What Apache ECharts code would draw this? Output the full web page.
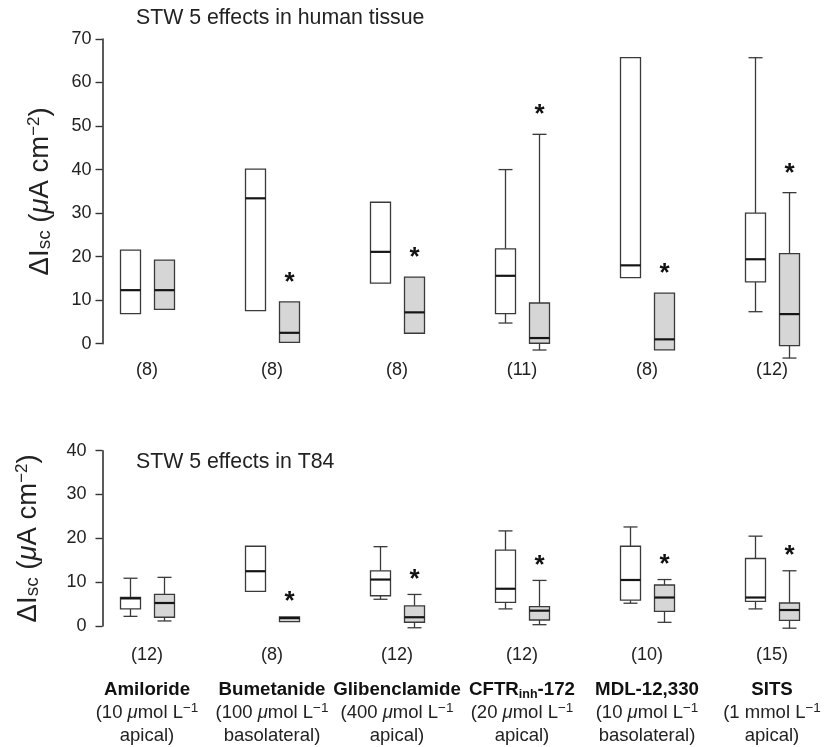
<!DOCTYPE html>
<html><head><meta charset="utf-8">
<script src="https://cdn.jsdelivr.net/npm/echarts@6/dist/echarts.min.js"></script>
<style>html,body{margin:0;padding:0;background:#fff}#c{width:835px;height:747px}</style>
</head><body><div id="c"></div>
<script>
// ---- data ----
const drugs = ['Amiloride', 'Bumetanide', 'Glibenclamide', 'CFTR_inh-172', 'MDL-12,330', 'SITS'];
const doses = ['10 μmol', '100 μmol', '400 μmol', '20 μmol', '10 μmol', '1 mmol'];
const sites = ['apical', 'basolateral', 'apical', 'apical', 'basolateral', 'apical'];
const nTissue = [8, 8, 8, 11, 8, 12];
const nT84 = [12, 8, 12, 12, 10, 15];
// each box: [min, Q1, median, Q3, max]
const tissueControl = [
  [6.9, 6.9, 12.3, 21.5, 21.5],
  [7.6, 7.6, 33.4, 40.1, 40.1],
  [13.9, 13.9, 21.1, 32.5, 32.5],
  [4.75, 6.9, 15.6, 21.8, 40.0],
  [15.2, 15.2, 18.0, 65.7, 65.7],
  [7.35, 14.2, 19.4, 30.0, 65.7]
];
const tissueSTW5 = [
  [7.9, 7.9, 12.3, 19.2, 19.2],
  [0.3, 0.3, 2.5, 9.6, 9.6],
  [2.4, 2.4, 7.2, 15.3, 15.3],
  [-1.45, 0.1, 1.3, 9.35, 48.1],
  [-1.4, -1.4, 1.0, 11.6, 11.6],
  [-3.3, -0.46, 6.8, 20.7, 34.7]
];
const tissueSig = [false, true, true, true, true, true];
const t84Control = [
  [2.2, 3.9, 6.3, 6.5, 10.9],
  [7.9, 7.9, 12.5, 18.2, 18.2],
  [6.1, 6.9, 10.6, 12.6, 18.1],
  [3.9, 5.4, 8.5, 17.3, 21.7],
  [5.2, 5.9, 10.5, 18.2, 22.6],
  [3.9, 5.6, 6.5, 15.4, 20.5]
];
const t84STW5 = [
  [1.15, 2.0, 5.25, 7.2, 11.1],
  [1.0, 1.0, 1.8, 2.05, 2.05],
  [-0.4, 0.85, 2.0, 4.6, 7.2],
  [0.3, 1.37, 3.5, 4.4, 10.4],
  [0.84, 3.35, 6.5, 9.35, 10.6],
  [-0.5, 1.3, 3.65, 5.25, 12.6]
];
const t84Sig = [false, true, true, true, true, true];
const noSig = [false, false, false, false, false, false];

// ---- styling ----
const FONT = "'Liberation Sans', Arial, Helvetica, sans-serif";
const TXT = '#222';
const EDGE = '#3a3a3a';

function seriesData(boxes) {
  return boxes.map((b, i) => [drugs[i]].concat(b));
}

function makeRender(offset, fill, sigArr, starLift) {
  return function (params, api) {
    const idx = api.value(0);
    const vals = [1, 2, 3, 4, 5].map(k => api.value(k));
    const pts = vals.map(v => api.coord([idx, v]));
    const cx = Math.round(pts[0][0] + offset) + 0.5;
    const y = pts.map(p => p[1]);
    const hw = 10, cw = 7;
    const ch = [];
    const ln = (x1, y1, x2, y2, w, c) => ({ type: 'line', shape: { x1, y1, x2, y2 }, style: { stroke: c, lineWidth: w } });
    if (vals[4] > vals[3]) {
      ch.push(ln(cx, y[4], cx, y[3], 1.3, EDGE));
      ch.push(ln(cx - cw, y[4], cx + cw, y[4], 1.3, EDGE));
    }
    if (vals[0] < vals[1]) {
      ch.push(ln(cx, y[1], cx, y[0], 1.3, EDGE));
      ch.push(ln(cx - cw, y[0], cx + cw, y[0], 1.3, EDGE));
    }
    ch.push({ type: 'rect', shape: { x: cx - hw, y: y[3], width: 2 * hw, height: y[1] - y[3] },
      style: { fill: fill, stroke: EDGE, lineWidth: 1.3 } });
    ch.push(ln(cx - hw, y[2], cx + hw, y[2], 2.2, '#151515'));
    if (sigArr[params.dataIndex]) {
      ch.push({ type: 'text', style: { text: '*', x: cx, y: y[4] - starLift,
        align: 'center', verticalAlign: 'bottom', textAlign: 'center', textVerticalAlign: 'bottom',
        font: 'bold 26px ' + FONT, fill: '#111' } });
    }
    return { type: 'group', children: ch };
  };
}

function boxSeries(boxes, xi, offset, fill, sigArr, starLift, name) {
  return {
    type: 'custom', name: name, xAxisIndex: xi, yAxisIndex: xi,
    dimensions: ['drug', 'min', 'q1', 'median', 'q3', 'max'],
    encode: { x: 'drug', y: ['min', 'q1', 'median', 'q3', 'max'] },
    data: seriesData(boxes),
    renderItem: makeRender(offset, fill, sigArr, starLift),
    clip: false, silent: true
  };
}

function nameRich(name) {
  const m = name.match(/^(.*)_([a-z]+)(.*)$/);
  if (!m) return '{b|' + name + '}';
  return '{b|' + m[1] + '}{bs|' + m[2] + '}{b|' + m[3] + '}';
}
function doseRich(i) {
  const parts = doses[i].split('μ');
  let s = '{t|(' + parts[0] + '}';
  if (parts.length > 1) s += '{ti|μ}{t|' + parts[1] + '}';
  return s + '{t| L}{sup|−1}';
}

const yName = '{d|ΔI}{s|sc}{d| (}{i|μ}{d|A cm}{p|−2}{d|)}';
const yNameRich = {
  d: { fontSize: 27.5, color: TXT, fontFamily: FONT, lineHeight: 29 },
  i: { fontSize: 27.5, color: TXT, fontFamily: FONT, fontStyle: 'italic', lineHeight: 29 },
  s: { fontSize: 19, color: TXT, fontFamily: FONT, verticalAlign: 'bottom', lineHeight: 12 },
  p: { fontSize: 17, color: TXT, fontFamily: FONT, verticalAlign: 'top', lineHeight: 12 }
};

function yAxisShown(gi, max, margin, gap) {
  return {
    gridIndex: gi, type: 'value', min: 0, max: max, interval: 10,
    axisLine: { show: true, lineStyle: { color: '#333', width: 1.6 } },
    axisTick: { show: true, length: 7, lineStyle: { color: '#333', width: 1.4 } },
    axisLabel: { margin: margin, fontSize: 18, color: TXT, fontFamily: FONT },
    splitLine: { show: false },
    name: yName, nameLocation: 'middle', nameGap: gap,
    nameTextStyle: { rich: yNameRich, fontSize: 27.5, color: TXT, fontFamily: FONT }
  };
}

const chart = echarts.init(document.getElementById('c'), null, { renderer: 'canvas' });
chart.setOption({
  animation: false,
  backgroundColor: '#fff',
  title: [
    { text: 'STW 5 effects in human tissue', left: 136, top: 8, padding: 0,
      textStyle: { fontSize: 21.3, fontWeight: 'normal', color: TXT, fontFamily: FONT } },
    { text: 'STW 5 effects in T84', left: 136, top: 452, padding: 0,
      textStyle: { fontSize: 21.3, fontWeight: 'normal', color: TXT, fontFamily: FONT } }
  ],
  grid: [
    { left: 102.5, top: 39, width: 700, height: 304.7 },
    { left: 84.5, top: 39, width: 750, height: 304.7 },
    { left: 102.5, top: 450.7, width: 700, height: 175.3 },
    { left: 84.5, top: 450.7, width: 750, height: 175.3 }
  ],
  xAxis: [
    { gridIndex: 0, type: 'value', show: false },
    { gridIndex: 1, type: 'category', data: drugs,
      axisLine: { show: false }, axisTick: { show: false }, splitLine: { show: false },
      axisLabel: { interval: 0, margin: 17, fontSize: 18, color: TXT, fontFamily: FONT,
        formatter: (v, i) => '(' + nTissue[i] + ')' } },
    { gridIndex: 2, type: 'value', show: false },
    { gridIndex: 3, type: 'category', data: drugs,
      axisLine: { show: false }, axisTick: { show: false }, splitLine: { show: false },
      axisLabel: { interval: 0, margin: 5, color: TXT, fontFamily: FONT, align: 'center',
        formatter: (v, i) => '{n|(' + nT84[i] + ')}\n' + nameRich(drugs[i]) + '\n' + doseRich(i) + '\n{t|' + sites[i] + ')}',
        rich: {
          n: { fontSize: 18, lineHeight: 48, color: TXT, fontFamily: FONT },
          b: { fontSize: 18.7, fontWeight: 'bold', lineHeight: 22, color: '#111', fontFamily: FONT },
          bs: { fontSize: 12.5, fontWeight: 'bold', lineHeight: 12, verticalAlign: 'bottom', color: '#111', fontFamily: FONT },
          t: { fontSize: 18.5, lineHeight: 23, color: TXT, fontFamily: FONT },
          ti: { fontSize: 18.5, lineHeight: 23, fontStyle: 'italic', color: TXT, fontFamily: FONT },
          sup: { fontSize: 13.5, lineHeight: 12, verticalAlign: 'top', color: TXT, fontFamily: FONT }
        } } }
  ],
  yAxis: [
    yAxisShown(0, 70, 11, 48),
    { gridIndex: 1, type: 'value', min: 0, max: 70, interval: 10, show: false },
    yAxisShown(2, 40, 16, 60),
    { gridIndex: 3, type: 'value', min: 0, max: 40, interval: 10, show: false }
  ],
  series: [
    boxSeries(tissueControl, 1, -17, '#ffffff', noSig, 6, 'Control tissue'),
    boxSeries(tissueSTW5, 1, 17, '#d6d6d6', tissueSig, 6, 'STW 5 tissue'),
    boxSeries(t84Control, 3, -17, '#ffffff', noSig, 2, 'Control T84'),
    boxSeries(t84STW5, 3, 17, '#d6d6d6', t84Sig, 2, 'STW 5 T84')
  ]
});
</script></body></html>
